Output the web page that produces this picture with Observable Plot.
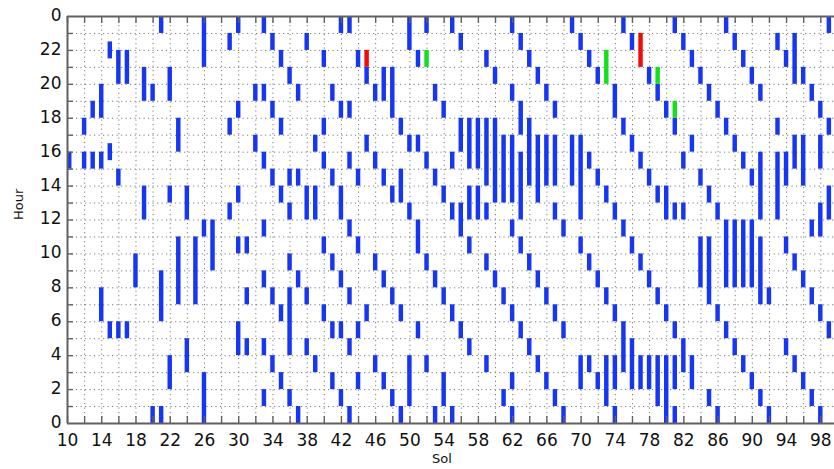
<!DOCTYPE html>
<html><head><meta charset="utf-8">
<script src="https://cdn.jsdelivr.net/npm/d3@7"></script>
<script src="https://cdn.jsdelivr.net/npm/@observablehq/plot@0.6"></script>
<style>body{margin:0;background:#fff;overflow:hidden}</style>
</head><body><div id="chart"></div>
<script>
// Each entry: [sol, hourStart, hourEnd, hourStart, hourEnd, ...]
const blueBarsA = [
  [10, 15,16],
  [12, 17,18, 15,16],
  [13, 18,19, 15,16],
  [14, 18,20, 15,16, 6,8],
  [15, 21.5,22.5, 15.5,16.5, 5,6],
  [16, 20,22, 14,15, 5,6],
  [17, 20,22, 5,6],
  [18, 8,10],
  [19, 19,21, 12,14],
  [20, 19,20, 0,1],
  [21, 23,24, 6,9, 0,1],
  [22, 19,21, 13,14, 2,4],
  [23, 16,18, 7,11],
  [24, 12,14, 3,5],
  [25, 7,11],
  [26, 21,24, 11,12, 0,3],
  [27, 9,12],
  [29, 22,23, 17,18, 12,13],
  [30, 23,24, 18,19, 13,14, 10,11, 4,6],
  [31, 10,11, 7,8, 4,5],
  [32, 19,20, 16,17],
  [33, 23,24, 19,20, 15,16, 11,12, 8,9, 4,5, 1,2],
  [34, 22,23, 18,19, 14,15, 7,8, 3,4],
  [35, 21,22, 17,18, 13,14, 6,7, 2,3],
  [36, 20,21, 14,15, 12,13, 9,10, 4,8, 1,2],
  [37, 19,20, 14,15, 8,9, 0,1],
  [38, 22,23, 12,14, 7,8, 4,5],
  [39, 16,17, 12,14, 3,4]
];
const blueBarsB = [
  [40, 21,22, 17,18, 15,16, 10,11, 6,7],
  [41, 19,20, 14,15, 9,10, 5,6, 2,3],
  [42, 23,24, 18,19, 12,14, 8,9, 5,6, 1,2],
  [43, 23,24, 18,19, 15,16, 11,12, 7,8, 4,5, 0,1],
  [44, 21,22, 14,15, 10,11, 5,6, 2,3],
  [45, 20,21, 16,17, 6,7],
  [46, 19,20, 15,16, 9,10, 3,4],
  [47, 19,21, 14,15, 8,9, 2,3],
  [48, 18,21, 13,14, 7,8, 1,2],
  [49, 17,18, 13,15, 6,7, 0,1],
  [50, 22,24, 16,17, 12,13, 1,4],
  [51, 21,22, 16,17, 10,12, 5,6],
  [52, 23,24, 15,16, 9,10, 3,4],
  [53, 19,20, 14,15, 8,9, 0,1],
  [54, 18,19, 13,14, 7,8, 1,3],
  [55, 23,24, 15,16, 12,13, 6,7, 0,1],
  [56, 22,23, 16,18, 11,13, 5,6],
  [57, 15,18, 12,14, 10,11, 4,5],
  [58, 15,18, 12,14],
  [59, 21,22, 14,18, 12,13, 9,10, 3,4],
  [60, 20,21, 13,18, 8,9],
  [61, 13,17, 7,8, 1,2],
  [62, 23,24, 19,20, 13,17, 11,12, 6,7, 2,3, 0,1],
  [63, 22,23, 17,19, 12,16, 10,11, 5,6],
  [64, 21,22, 14,18, 9,10, 4,5],
  [65, 20,21, 13,17, 8,9, 3,4],
  [66, 19,20, 14,17, 7,8, 2,3],
  [67, 18,19, 14,17, 12,13, 6,7, 1,2],
  [68, 11,12, 5,6, 0,1],
  [69, 23,24, 14,17]
];
const blueBarsC = [
  [70, 22,23, 12,17, 10,11, 2,4],
  [71, 21,22, 15,16, 9,10, 3,4],
  [72, 20,21, 14,15, 8,9, 2,3],
  [73, 13,14, 7,8, 1,4],
  [74, 18,20, 12,13, 6,7, 2,4, 0,1],
  [75, 23,24, 17,18, 11,12, 3,6],
  [76, 22,23, 16,17, 10,11, 2,5],
  [77, 15,16, 9,10, 2,4],
  [78, 20,21, 14,15, 8,9, 2,4],
  [79, 19,20, 13,14, 7,8, 1,4],
  [80, 18,19, 12,14, 6,7, 0,4],
  [81, 23,24, 17,18, 12,13, 5,6, 2,4, 0,1],
  [82, 22,23, 15,16, 12,13, 3,5],
  [83, 21,22, 16,17, 2,4],
  [84, 20,21, 14,15, 8,11],
  [85, 19,20, 13,14, 7,11, 1,2],
  [86, 18,19, 12,13, 6,7, 0,1],
  [87, 23,24, 17,18, 8,12, 5,6],
  [88, 22,23, 16,17, 8,12, 4,5],
  [89, 21,22, 15,16, 8,12, 3,4],
  [90, 20,21, 14,15, 8,12, 2,3],
  [91, 19,20, 12,16, 7,11, 1,2],
  [92, 7,8, 0,1],
  [93, 22,23, 17,18, 12,16],
  [94, 21,22, 14,16, 10,11, 4,5],
  [95, 20,23, 15,17, 9,10, 3,4],
  [96, 20,21, 14,17, 8,9, 2,3],
  [97, 19,20, 11,12, 7,8, 1,2],
  [98, 18,19, 15,17, 11,13, 6,7, 0,1],
  [99, 23,24, 17,18, 12,14, 5,6]
];
const redBars = [[45, 21,22], [77, 21,23]];
const greenBars = [[52, 21,22], [73, 20,22], [79, 20,21], [81, 18,19]];

const solLabels = [10,14,18,22,26,30,34,38,42,46,50,54,58,62,66,70,74,78,82,86,90,94,98];
const solTicks = [10,12,14,16,18,20,22,24,26,28,30,32,34,36,38,40,42,44,46,48,50,52,54,56,58,60,62,64,66,68,70,72,74,76,78,80,82,84,86,88,90,92,94,96,98];
const hourLabels = [0,2,4,6,8,10,12,14,16,18,20,22,24];
const hourTicks = [1,2,3,4,5,6,7,8,9,10,11,12,13,14,15,16,17,18,19,20,21,22,23];

const COLORS = {blue: "#1536f2", red: "#f00a0a", green: "#12e01c"};
function expand(list, color) {
  const out = [];
  for (const row of list) {
    for (let i = 1; i < row.length; i += 2) out.push({sol: row[0], h1: row[i], h2: row[i + 1], c: COLORS[color]});
  }
  return out;
}
const bars = [
  ...expand(blueBarsA, "blue"), ...expand(blueBarsB, "blue"), ...expand(blueBarsC, "blue"),
  ...expand(redBars, "red"), ...expand(greenBars, "green")
];
const HW = 0.26;
const left = d => Math.max(10, d.sol - HW);

const gridStyle = {stroke: "#7a7a7a", strokeDasharray: "1.2,3.3", strokeWidth: 1};
const axisColor = "#606060";
const font = "DejaVu Sans, sans-serif";

const chart = Plot.plot({
  width: 834, height: 469,
  marginLeft: 67, marginRight: 0, marginTop: 16, marginBottom: 46,
  x: {domain: [10, 99.6], axis: null},
  y: {domain: [0, 24], axis: null},
  style: {fontFamily: font, background: "#fff"},
  marks: [
    Plot.ruleY(hourTicks, gridStyle),
    Plot.ruleX(solTicks.filter(d => d > 10), gridStyle),
    Plot.rect(bars, {x1: left, x2: d => left(d) + 2 * HW, y1: "h1", y2: "h2", fill: "c"}),
    Plot.ruleY([0, 24], {stroke: axisColor, strokeWidth: 2}),
    Plot.ruleX([10], {stroke: axisColor, strokeWidth: 2}),
    Plot.ruleX(solTicks, {stroke: axisColor, strokeWidth: 1.4, insetTop: 400}),
    Plot.ruleX(solTicks, {stroke: axisColor, strokeWidth: 1.4, insetBottom: 400}),
    Plot.ruleY(hourTicks, {stroke: axisColor, strokeWidth: 1.4, insetRight: 761}),
    Plot.text(hourLabels, {x: 10, y: d => d, text: d => String(d % 24), textAnchor: "end", dx: -6, dy: -1, fontSize: 17, fill: "#111"}),
    Plot.text(solLabels, {x: d => d, y: 0, text: d => String(d), dy: 17, fontSize: 17, fill: "#111"}),
    Plot.text(["Sol"], {frameAnchor: "bottom", dx: -9, dy: 39, fontSize: 13, fill: "#111"}),
    Plot.text(["Hour"], {frameAnchor: "left", dx: -49, rotate: -90, fontSize: 13, fill: "#111"})
  ]
});
document.getElementById("chart").appendChild(chart);
</script>
</body></html>
